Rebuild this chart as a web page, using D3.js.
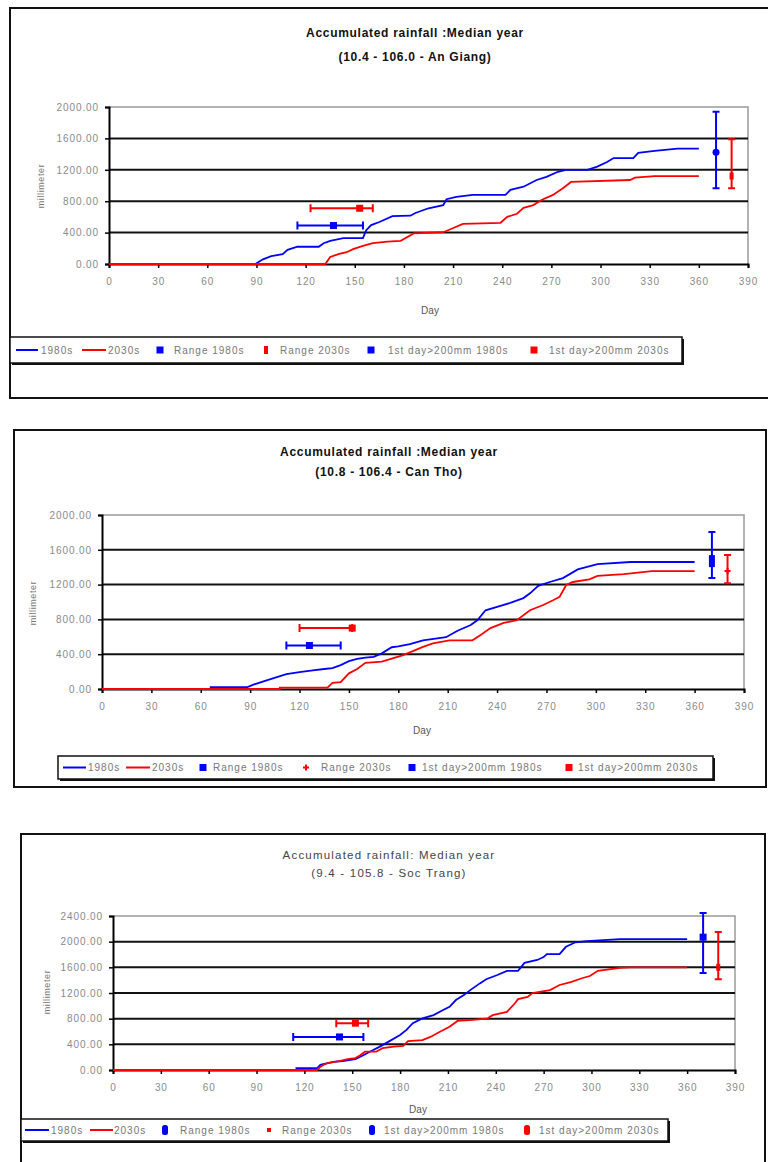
<!DOCTYPE html>
<html>
<head>
<meta charset="utf-8">
<script src="https://cdn.jsdelivr.net/npm/d3@7"></script>
<style>
  html, body { margin: 0; padding: 0; background: #fff; }
  svg { display: block; font-family: "Liberation Sans", Arial, sans-serif; }
</style>
</head>
<body>
<svg id="chart" width="768" height="1162"></svg>
<script>
// ---- Data: accumulated rainfall (mm) by day of year, median year ----
const xTicks = [0, 30, 60, 90, 120, 150, 180, 210, 240, 270, 300, 330, 360, 390];
const seriesNames = ["1980s", "2030s"];
const legendLabels = ["1980s", "2030s", "Range 1980s", "Range 2030s",
                      "1st day>200mm 1980s", "1st day>200mm 2030s"];

// An Giang
const anGiang1980s = [[0,0],[90,0],[90,10],[94,60],[99,100],[106,125],[109,180],[115,220],[128,220],
  [131,265],[135,295],[143,330],[155,330],[157,430],[160,495],[165,535],[173,610],[184,615],[187,650],
  [195,710],[204,750],[206,825],[212,855],[222,880],[242,880],[245,945],[253,985],[261,1070],[267,1110],
  [274,1175],[279,1200],[292,1200],[298,1240],[304,1300],[308,1350],[320,1350],[323,1415],[333,1440],
  [347,1470],[360,1470]];
const anGiang2030s = [[0,0],[132,0],[135,90],[140,125],[145,150],[149,190],[155,230],[161,265],[170,285],
  [178,295],[186,390],[204,405],[208,440],[216,510],[239,525],[243,600],[249,640],[253,715],[259,750],
  [264,815],[271,880],[277,965],[282,1045],[318,1070],[321,1100],[333,1120],[360,1120]];
// [day, low, marker, high]
const anGiangTotal1980s = [370.5, 965, 1425, 1940];
const anGiangTotal2030s = [380, 965, 1120, 1590];
// [day, mm, earliest day, latest day]
const anGiangFirstDay1980s = [137, 490, 115, 155];
const anGiangFirstDay2030s = [153, 710, 123, 161];

// Can Tho
const canTho1980s = [[0,0],[66,0],[66,20],[88,20],[92,50],[100,100],[112,170],[120,195],[128,215],
  [135,230],[140,240],[145,275],[150,320],[155,345],[160,360],[165,370],[170,410],[176,480],[180,490],
  [187,515],[195,560],[209,595],[216,670],[224,735],[228,790],[233,905],[240,945],[248,990],[256,1045],
  [260,1100],[265,1185],[272,1230],[280,1275],[289,1375],[301,1435],[321,1460],[360,1460]];
const canTho2030s = [[0,0],[108,0],[108,15],[137,15],[140,70],[145,80],[150,180],[155,230],[160,300],
  [170,315],[176,350],[183,390],[195,485],[201,525],[211,560],[225,560],[230,620],[236,700],[244,760],
  [252,790],[260,905],[268,965],[274,1020],[278,1060],[282,1195],[286,1230],[296,1260],[301,1300],
  [317,1320],[334,1355],[360,1355]];
const canThoTotal1980s = [370.5, 1275, 1470, 1805];
const canThoTotal2030s = [380, 1215, 1355, 1540];
const canThoFirstDay1980s = [126, 500, 112, 145];
const canThoFirstDay2030s = [152, 700, 120, 152];

// Soc Trang
const socTrang1980s = [[0,0],[115,0],[115,30],[128,30],[130,80],[138,125],[144,140],[152,170],[157,230],
  [161,285],[167,360],[172,430],[180,545],[184,625],[188,730],[194,805],[201,855],[207,935],[211,985],
  [215,1090],[220,1170],[224,1245],[230,1350],[234,1415],[241,1480],[247,1545],[254,1545],[258,1670],
  [266,1715],[270,1760],[272,1805],[280,1805],[284,1920],[290,1990],[297,2010],[318,2040],[360,2040]];
const socTrang2030s = [[0,0],[128,0],[130,50],[134,105],[139,125],[142,140],[147,170],[152,185],[155,230],
  [158,285],[165,285],[169,340],[176,365],[182,375],[185,450],[194,465],[199,515],[205,595],[211,675],
  [216,765],[226,780],[235,805],[238,855],[247,905],[252,1040],[254,1105],[260,1140],[263,1200],
  [274,1245],[280,1325],[287,1370],[294,1430],[299,1465],[304,1545],[318,1590],[325,1600],[360,1600]];
const socTrangTotal1980s = [370, 1510, 2070, 2445];
const socTrangTotal2030s = [379.5, 1415, 1600, 2150];
const socTrangFirstDay1980s = [142, 515, 113, 157];
const socTrangFirstDay2030s = [152, 730, 140, 160];

// ---- Panel layout ----
const BLUE = "#0000ff", RED = "#ff0000";
const panels = [
  {
    title: ["Accumulated rainfall :Median year", "(10.4 - 106.0 - An Giang)"], bold: true,
    frame: {x: 10, y: 8, w: 800, h: 390}, titleX: 415, titleY: [37, 61],
    plot: {l: 109, r: 748, t: 107, b: 264}, yMax: 2000,
    lines: [anGiang1980s, anGiang2030s],
    totals: [anGiangTotal1980s, anGiangTotal2030s], totalMarks: ["circle", "smallrect"],
    first: [anGiangFirstDay1980s, anGiangFirstDay2030s],
    dayX: 430, dayY: 314, mmX: 44, mmY: 186,
    legend: {x: 10, y: 337, w: 672, h: 26,
      pos: [[16, 38, 41], [82, 106, 108], [160, 174], [266, 280], [371, 388], [534, 549]],
      marks: ["sq", "thin", "sq", "sq"]}
  },
  {
    title: ["Accumulated rainfall :Median year", "(10.8 - 106.4 - Can Tho)"], bold: true,
    frame: {x: 14, y: 430, w: 752, h: 357}, titleX: 389, titleY: [456, 476],
    plot: {l: 102, r: 744, t: 515, b: 689}, yMax: 2000,
    lines: [canTho1980s, canTho2030s],
    totals: [canThoTotal1980s, canThoTotal2030s], totalMarks: ["tallrect", "plus"],
    first: [canThoFirstDay1980s, canThoFirstDay2030s],
    dayX: 422, dayY: 734, mmX: 36, mmY: 603,
    legend: {x: 58, y: 756, w: 655, h: 23,
      pos: [[63, 86, 88], [126, 150, 152], [203, 213], [306, 321], [412, 422], [569, 578]],
      marks: ["sq", "plus", "sq", "sq"]}
  },
  {
    title: ["Accumulated rainfall: Median year", "(9.4 - 105.8 - Soc Trang)"], bold: false,
    frame: {x: 21, y: 834, w: 744, h: 400}, titleX: 389, titleY: [859, 877],
    plot: {l: 113, r: 735, t: 916, b: 1070}, yMax: 2400,
    lines: [socTrang1980s, socTrang2030s],
    totals: [socTrangTotal1980s, socTrangTotal2030s], totalMarks: ["sq", "smallrect"],
    first: [socTrangFirstDay1980s, socTrangFirstDay2030s],
    dayX: 418, dayY: 1113, mmX: 50, mmY: 992,
    legend: {x: 21, y: 1119, w: 647, h: 22,
      pos: [[25, 49, 51], [90, 113, 114], [165, 180], [269, 282], [372, 384], [527, 539]],
      marks: ["pill", "dot", "pill", "pill"]}
  }
];

const svg = d3.select("#chart");
const fmt = d3.format(".2f");

function marker(g, shape, cx, cy, color) {
  if (shape === "circle") {
    g.append("circle").attr("cx", cx).attr("cy", cy).attr("r", 3.5).attr("fill", color);
  } else if (shape === "plus") {
    g.append("path").attr("d", `M${cx-3},${cy}H${cx+3}M${cx},${cy-3}V${cy+3}`)
      .attr("stroke", color).attr("stroke-width", 2);
  } else if (shape === "tallrect") {
    g.append("rect").attr("x", cx - 3).attr("y", cy - 6).attr("width", 6).attr("height", 12).attr("fill", color);
  } else if (shape === "smallrect") {
    g.append("rect").attr("x", cx - 2).attr("y", cy - 3.5).attr("width", 4).attr("height", 7).attr("fill", color);
  } else if (shape === "thin") {
    g.append("rect").attr("x", cx - 2).attr("y", cy - 4).attr("width", 4).attr("height", 8).attr("fill", color);
  } else if (shape === "dot") {
    g.append("rect").attr("x", cx - 2).attr("y", cy - 2).attr("width", 4).attr("height", 4).attr("fill", color);
  } else if (shape === "pill") {
    g.append("rect").attr("x", cx - 3).attr("y", cy - 5).attr("width", 6).attr("height", 10)
      .attr("rx", 2.5).attr("fill", color);
  } else {
    g.append("rect").attr("x", cx - 3.5).attr("y", cy - 3.5).attr("width", 7).attr("height", 7).attr("fill", color);
  }
}

panels.forEach(p => {
  const g = svg.append("g");
  const x = d3.scaleLinear().domain([0, 390]).range([p.plot.l, p.plot.r]);
  const y = d3.scaleLinear().domain([0, p.yMax]).range([p.plot.b, p.plot.t]);

  // outer frame
  g.append("rect").attr("x", p.frame.x).attr("y", p.frame.y)
    .attr("width", p.frame.w).attr("height", p.frame.h)
    .attr("fill", "none").attr("stroke", "#111").attr("stroke-width", 2);

  // titles
  p.title.forEach((t, i) => {
    g.append("text").attr("x", p.titleX).attr("y", p.titleY[i]).attr("text-anchor", "middle")
      .attr("font-size", p.bold ? 12 : 11.5).attr("font-weight", p.bold ? "bold" : "normal")
      .attr("letter-spacing", p.bold ? 0.7 : 1.2).attr("fill", p.bold ? "#111" : "#444").text(t);
  });

  // plot border (top / right)
  g.append("path").attr("d", `M${p.plot.l},${p.plot.t}H${p.plot.r}V${p.plot.b}`)
    .attr("fill", "none").attr("stroke", "#9a9a9a").attr("stroke-width", 1.5);

  // gridlines
  const yTicks = d3.range(0, p.yMax + 1, 400);
  g.selectAll(null).data(yTicks.filter(v => v > 0 && v < p.yMax)).join("line")
    .attr("x1", p.plot.l).attr("x2", p.plot.r).attr("y1", d => y(d)).attr("y2", d => y(d))
    .attr("stroke", "#111").attr("stroke-width", 2);

  // axes
  const yAxis = g.append("g").attr("transform", `translate(${p.plot.l},0)`)
    .call(d3.axisLeft(y).tickValues(yTicks).tickFormat(fmt).tickSize(4).tickPadding(6));
  const xAxis = g.append("g").attr("transform", `translate(0,${p.plot.b})`)
    .call(d3.axisBottom(x).tickValues(xTicks).tickSize(4).tickPadding(10));
  [yAxis, xAxis].forEach(a => {
    a.select(".domain").attr("stroke", "#000").attr("stroke-width", 2);
    a.selectAll(".tick line").attr("stroke", "#000").attr("stroke-width", 1.5);
    a.selectAll("text").attr("font-size", 10).attr("letter-spacing", 0.9).attr("fill", "#8a8a8a")
      .attr("font-family", "'Liberation Sans', Arial, sans-serif");
  });

  // axis titles
  g.append("text").attr("x", p.dayX).attr("y", p.dayY).attr("text-anchor", "middle")
    .attr("font-size", 10).attr("fill", "#555").text("Day");
  g.append("text").attr("transform", `translate(${p.mmX},${p.mmY}) rotate(-90)`)
    .attr("text-anchor", "middle").attr("font-size", 9).attr("letter-spacing", 0.6)
    .attr("fill", "#777").text("millimeter");

  // accumulated rainfall lines
  const line = d3.line().x(d => x(d[0])).y(d => y(d[1]));
  p.lines.forEach((pts, i) => {
    g.append("path").datum(pts).attr("d", line).attr("fill", "none")
      .attr("stroke", i === 0 ? BLUE : RED).attr("stroke-width", 1.8);
  });

  // annual total range bars
  p.totals.forEach((t, i) => {
    const c = i === 0 ? BLUE : RED;
    const cx = x(t[0]);
    g.append("path")
      .attr("d", `M${cx},${y(t[1])}V${y(t[3])}M${cx-3.5},${y(t[1])}H${cx+3.5}M${cx-3.5},${y(t[3])}H${cx+3.5}`)
      .attr("stroke", c).attr("stroke-width", 2).attr("fill", "none");
    marker(g, p.totalMarks[i], cx, y(t[2]), c);
  });

  // first day with > 200 mm accumulated, with its range
  p.first.forEach((f, i) => {
    const c = i === 0 ? BLUE : RED;
    const cy = y(f[1]);
    g.append("path")
      .attr("d", `M${x(f[2])},${cy}H${x(f[3])}M${x(f[2])},${cy-4}V${cy+4}M${x(f[3])},${cy-4}V${cy+4}`)
      .attr("stroke", c).attr("stroke-width", 2).attr("fill", "none");
    marker(g, "sq", x(f[0]), cy, c);
  });

  // legend
  const L = p.legend;
  g.append("rect").attr("x", L.x + 2).attr("y", L.y + 2).attr("width", L.w).attr("height", L.h).attr("fill", "#111");
  g.append("rect").attr("x", L.x).attr("y", L.y).attr("width", L.w).attr("height", L.h)
    .attr("fill", "#fff").attr("stroke", "#111").attr("stroke-width", 1.5);
  const ly = L.y + L.h / 2;
  legendLabels.forEach((lab, i) => {
    const c = i % 2 === 0 ? BLUE : RED;
    const pos = L.pos[i];
    let tx;
    if (i < 2) {
      g.append("line").attr("x1", pos[0]).attr("x2", pos[1]).attr("y1", ly).attr("y2", ly)
        .attr("stroke", c).attr("stroke-width", 2);
      tx = pos[2];
    } else {
      marker(g, L.marks[i - 2], pos[0], ly, c);
      tx = pos[1];
    }
    g.append("text").attr("x", tx).attr("y", ly + 3.5).attr("font-size", 10)
      .attr("letter-spacing", 1).attr("fill", "#777").text(lab);
  });
});
</script>
</body>
</html>
